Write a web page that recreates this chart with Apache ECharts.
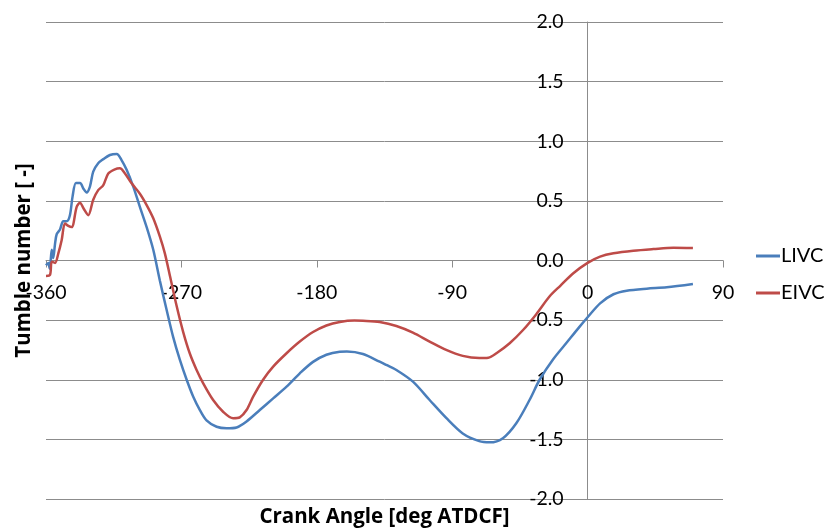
<!DOCTYPE html>
<html>
<head>
<meta charset="utf-8">
<script src="https://cdn.jsdelivr.net/npm/echarts@6/dist/echarts.min.js"></script>
<style>
  html, body { margin: 0; padding: 0; background: #fff; }
  #chart { width: 824px; height: 531px; }
</style>
</head>
<body>
<div id="chart"></div>
<script>
// Tumble number vs crank angle for two intake valve closing strategies
const xTicks = [-360, -270, -180, -90, 0, 90];
const yTicks = [-2.0, -1.5, -1.0, -0.5, 0.0, 0.5, 1.0, 1.5, 2.0];

const livcAngle = [-360, -358.5, -357.5, -356.2, -355.2, -354, -352.9, -350.7, -348.5, -346.3,
  -344.1, -342.3, -340.1, -337.4, -335, -333, -330.8, -328.6, -325.3, -321.9,
  -317.5, -313, -309.7, -306.4, -302, -297.6, -293.1, -288.7, -284.3, -279.8,
  -275.5, -271, -266.5, -262.2, -257.7, -253.3, -246.6, -240, -233.3, -226.7,
  -217.9, -209, -200.1, -191.3, -182.5, -173.6, -164.7, -160, -149.3, -138.2,
  -133.8, -127.1, -116.1, -105, -94, -83, -72, -65, -56.3, -47.4,
  -38.6, -31.9, -23, -14, -5, 0, 8.3, 17.2, 26, 39.3,
  52.6, 70];
const livcValue = [-0.04, -0.02, -0.07, 0.09, 0.02, 0.14, 0.22, 0.26, 0.33, 0.33,
  0.38, 0.54, 0.65, 0.65, 0.6, 0.57, 0.62, 0.745, 0.815, 0.85,
  0.885, 0.893, 0.84, 0.76, 0.62, 0.45, 0.28, 0.09, -0.17, -0.415,
  -0.64, -0.834, -1.0, -1.14, -1.254, -1.34, -1.394, -1.407, -1.4, -1.35,
  -1.254, -1.156, -1.058, -0.946, -0.85, -0.79, -0.765, -0.763, -0.784, -0.849,
  -0.876, -0.918, -1.016, -1.17, -1.32, -1.45, -1.515, -1.525, -1.49, -1.365,
  -1.17, -1.0, -0.83, -0.69, -0.55, -0.476, -0.359, -0.283, -0.253, -0.236,
  -0.225, -0.197];

const eivcAngle = [-360, -357.3, -356.2, -354, -351.8, -349.6, -347.4, -345.2, -342.9, -339.6,
  -337.4, -335.2, -331.9, -328.6, -325.3, -322, -318.6, -314.2, -310.9, -307.5,
  -303.1, -297.6, -293.1, -288.7, -284.3, -281, -277.6, -273.2, -268.8, -264.4,
  -259.9, -255.5, -248.9, -242.3, -235.6, -231.2, -226.7, -222.3, -215.7, -209,
  -200.1, -191.3, -182.5, -173.6, -164.7, -155, -149.3, -138.2, -127.1, -116.1,
  -105, -94, -83, -72, -66, -60.6, -51.8, -42.9, -34.1, -25.2,
  -18, -9.5, 0, 8.3, 17.2, 30.4, 43.7, 57, 70];
const eivcValue = [-0.13, -0.12, -0.01, -0.02, 0.06, 0.17, 0.31, 0.29, 0.28, 0.45,
  0.485, 0.44, 0.38, 0.51, 0.59, 0.63, 0.73, 0.765, 0.773, 0.73,
  0.647, 0.56, 0.465, 0.354, 0.2, 0.06, -0.13, -0.38, -0.6, -0.78,
  -0.918, -1.03, -1.17, -1.268, -1.323, -1.315, -1.254, -1.142, -1.0, -0.89,
  -0.778, -0.68, -0.6, -0.545, -0.515, -0.503, -0.505, -0.516, -0.549, -0.605,
  -0.68, -0.75, -0.8, -0.818, -0.815, -0.778, -0.694, -0.583, -0.45, -0.3,
  -0.21, -0.107, -0.02, 0.032, 0.06, 0.082, 0.096, 0.107, 0.105];

const pairs = (xs, ys) => xs.map((x, i) => [x, ys[i]]);
const FONT = 'Lato, "Open Sans", sans-serif';
const TITLE_FONT = '"Open Sans", Lato, sans-serif';
const GRID = '#8c8c8c';

// plot box in pixels
const G = { left: 46, right: 101, top: 22, bottom: 32 };
const W = 824, H = 531;
const plotW = W - G.left - G.right;
const plotH = H - G.top - G.bottom;
const xMin = xTicks[0], xMax = xTicks[xTicks.length - 1];
const yMin = yTicks[0], yMax = yTicks[yTicks.length - 1];
// the axes cross at the origin: shift each axis from its edge to zero
const xAxisShift = plotH * (0 - yMin) / (yMax - yMin);
const yAxisShift = plotW * (0 - xMin) / (xMax - xMin);

const chart = echarts.init(document.getElementById('chart'), null, { renderer: 'canvas' });
chart.setOption({
  animation: false,
  backgroundColor: '#ffffff',
  textStyle: { fontFamily: FONT },
  grid: Object.assign({ containLabel: false, outerBoundsMode: 'none' }, G),
  legend: {
    orient: 'vertical',
    left: 751,
    top: 241,
    itemWidth: 24,
    itemHeight: 3,
    itemGap: 17,
    icon: 'rect',
    textStyle: { fontFamily: FONT, fontSize: 20, color: '#000', padding: [0, 0, 0, -4] },
    data: ['LIVC', 'EIVC']
  },
  xAxis: {
    type: 'value',
    position: 'bottom',
    offset: -xAxisShift,
    min: xMin,
    max: xMax,
    interval: 90,
    name: 'Crank Angle [deg ATDCF]',
    nameLocation: 'middle',
    nameGap: 246,
    nameTextStyle: { fontFamily: TITLE_FONT, fontSize: 20.5, fontWeight: 'bold', color: '#000' },
    axisLine: { onZero: false, lineStyle: { color: GRID, width: 1 } },
    axisTick: { show: true, length: 7, lineStyle: { color: GRID } },
    axisLabel: { fontSize: 19.5, color: '#000', margin: 22, fontFamily: FONT },
    splitLine: { show: false }
  },
  yAxis: {
    type: 'value',
    position: 'left',
    offset: -yAxisShift,
    min: yMin,
    max: yMax,
    interval: 0.5,
    name: 'Tumble number [ -]',
    nameLocation: 'middle',
    nameRotate: 90,
    nameGap: 553,
    nameTextStyle: { fontFamily: TITLE_FONT, fontSize: 20.5, fontWeight: 'bold', color: '#000' },
    axisLine: { onZero: false, lineStyle: { color: GRID, width: 1 } },
    axisTick: { show: false },
    axisLabel: {
      fontSize: 19.5, color: '#000', margin: 24, fontFamily: FONT,
      padding: [5, 0, 0, 0],
      formatter: v => v.toFixed(1)
    },
    splitLine: { show: true, lineStyle: { color: GRID, width: 1 } }
  },
  series: [
    {
      name: 'LIVC',
      type: 'line',
      data: pairs(livcAngle, livcValue),
      showSymbol: false,
      smooth: 0.3,
      lineStyle: { color: '#4a7ebb', width: 2.5 },
      itemStyle: { color: '#4a7ebb' }
    },
    {
      name: 'EIVC',
      type: 'line',
      data: pairs(eivcAngle, eivcValue),
      showSymbol: false,
      smooth: 0.3,
      lineStyle: { color: '#be4b48', width: 2.5 },
      itemStyle: { color: '#be4b48' }
    }
  ]
});
</script>
</body>
</html>
